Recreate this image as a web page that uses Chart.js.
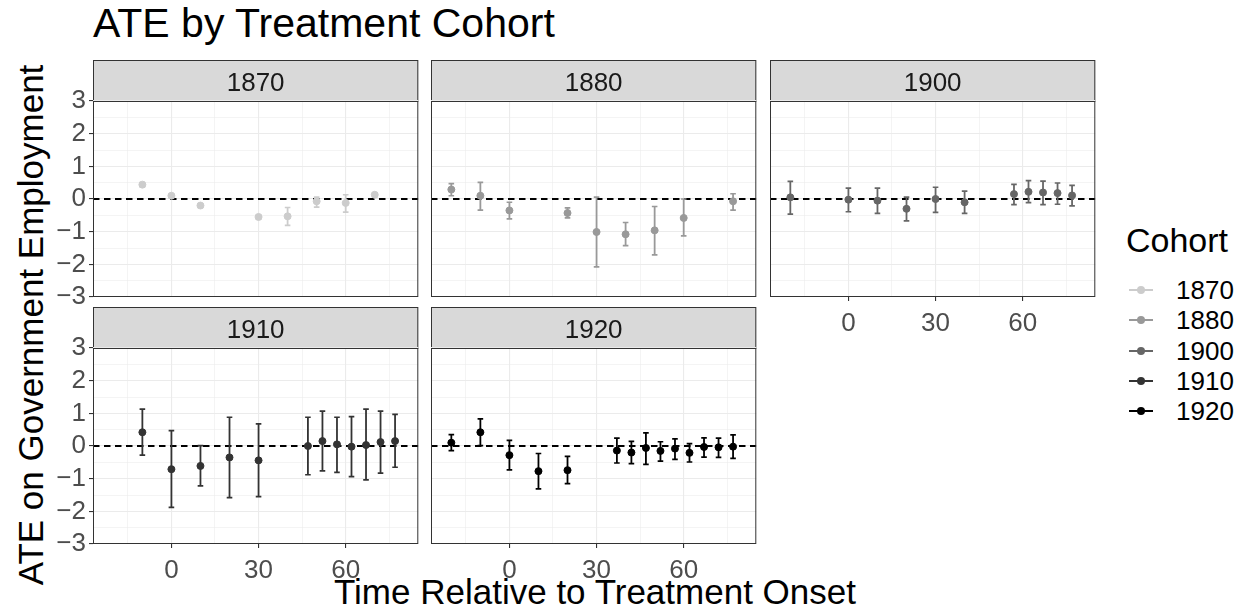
<!DOCTYPE html>
<html>
<head>
<meta charset="utf-8">
<script src="https://cdn.jsdelivr.net/npm/chart.js@4.4.1/dist/chart.umd.min.js"></script>
<style>
  html, body { margin: 0; padding: 0; background: #ffffff; }
  #page {
    position: relative; width: 1235px; height: 613px; overflow: hidden;
    font-family: "Liberation Sans", Arial, Helvetica, sans-serif; color: #000;
  }
  #page canvas { position: absolute; }
  .txt { position: absolute; white-space: nowrap; line-height: 1; }
  #title { left: 93px; top: 3px; font-size: 41px; }
  #xtitle { left: 595px; top: 574px; font-size: 35px; transform: translateX(-50%); }
  #ytitle { left: 30px; top: 325px; font-size: 35px; transform: translate(-50%, -50%) rotate(-90deg); }
  #legend { position: absolute; left: 1126px; top: 223px; }
  #legend .head { font-size: 34px; line-height: 1; margin-bottom: 18px; }
  #legend .item { position: relative; height: 30.3px; font-size: 26px; line-height: 30px; padding-left: 50px; }
  #legend .key { position: absolute; left: 3px; top: 14px; width: 24px; height: 2px; }
  #legend .dot { position: absolute; left: 8px; top: -3px; width: 8px; height: 8px; border-radius: 50%; }
</style>
</head>
<body>
<div id="page">
  <div class="txt" id="title">ATE by Treatment Cohort</div>
  <div class="txt" id="xtitle">Time Relative to Treatment Onset</div>
  <div class="txt" id="ytitle">ATE on Government Employment</div>
  <div id="legend"><div class="head">Cohort</div></div>
</div>
<script>
// cohorts and their grey shades
const cohorts = ['1870', '1880', '1900', '1910', '1920'];
const cohortGreys = ['#cccccc', '#999999', '#666666', '#333333', '#000000'];

// event time, point estimate and 95% interval per cohort
const time1870 = [-10, 0, 10, 30, 40, 50, 60, 70];
const ate1870  = [0.44, 0.10, -0.20, -0.55, -0.53, -0.07, -0.12, 0.13];
const low1870  = [0.38, 0.05, -0.25, -0.61, -0.81, -0.25, -0.40, 0.07];
const high1870 = [0.50, 0.15, -0.15, -0.49, -0.26, 0.06, 0.13, 0.19];

const time1880 = [-20, -10, 0, 20, 30, 40, 50, 60, 77];
const ate1880  = [0.29, 0.10, -0.35, -0.43, -1.01, -1.08, -0.96, -0.58, -0.07];
const low1880  = [0.10, -0.34, -0.61, -0.58, -2.08, -1.43, -1.71, -1.13, -0.34];
const high1880 = [0.47, 0.51, -0.10, -0.27, 0.06, -0.72, -0.23, 0.00, 0.16];

const time1900 = [-20, 0, 10, 20, 30, 40, 57, 62, 67, 72, 77];
const ate1900  = [0.05, -0.02, -0.05, -0.30, 0.00, -0.10, 0.15, 0.22, 0.20, 0.18, 0.11];
const low1900  = [-0.46, -0.39, -0.44, -0.67, -0.41, -0.44, -0.17, -0.11, -0.17, -0.16, -0.21];
const high1900 = [0.54, 0.33, 0.33, 0.06, 0.36, 0.24, 0.45, 0.56, 0.55, 0.49, 0.42];

const time1910 = [-10, 0, 10, 20, 30, 47, 52, 57, 62, 67, 72, 77];
const ate1910  = [0.42, -0.71, -0.61, -0.35, -0.44, 0.00, 0.15, 0.05, -0.02, 0.03, 0.12, 0.15];
const low1910  = [-0.28, -1.88, -1.22, -1.58, -1.55, -0.88, -0.76, -0.81, -0.94, -1.04, -0.83, -0.65];
const high1910 = [1.13, 0.47, 0.01, 0.88, 0.68, 0.88, 1.07, 0.88, 0.90, 1.13, 1.07, 0.97];

const time1920 = [-20, -10, 0, 10, 20, 37, 42, 47, 52, 57, 62, 67, 72, 77];
const ate1920  = [0.10, 0.42, -0.28, -0.77, -0.74, -0.14, -0.20, -0.06, -0.15, -0.08, -0.21, -0.03, -0.04, -0.02];
const low1920  = [-0.14, 0.01, -0.73, -1.31, -1.15, -0.52, -0.54, -0.56, -0.46, -0.41, -0.49, -0.34, -0.35, -0.38];
const high1920 = [0.35, 0.83, 0.17, -0.23, -0.32, 0.24, 0.14, 0.40, 0.13, 0.22, 0.07, 0.25, 0.24, 0.34];

// axis breaks
const xTickLabels = [0, 30, 60];
const xGridBreaks = [-15, 0, 15, 30, 45, 60, 75];
const yTickLabels = [-3, -2, -1, 0, 1, 2, 3];
const yGridBreaks = [-3, -2.5, -2, -1.5, -1, -0.5, 0, 0.5, 1, 1.5, 2, 2.5, 3];
const zeroLine = 0;

const series = {
  1870: { t: time1870, est: ate1870, lo: low1870, hi: high1870 },
  1880: { t: time1880, est: ate1880, lo: low1880, hi: high1880 },
  1900: { t: time1900, est: ate1900, lo: low1900, hi: high1900 },
  1910: { t: time1910, est: ate1910, lo: low1910, hi: high1910 },
  1920: { t: time1920, est: ate1920, lo: low1920, hi: high1920 },
};

// facet geometry (px)
const X_MIN = -27, X_MAX = 85, Y_MIN = -3, Y_MAX = 3;
const PLOT_LEFT = [93, 431, 770];
const STRIP_TOP = [60, 307];
const PLOT_W = 327, PLOT_H = 196, STRIP_H = 41;
const MARGIN_L = 60, MARGIN_R = 4, MARGIN_B = 45;
const FONT = '"Liberation Sans", Arial, Helvetica, sans-serif';

Chart.defaults.font.family = FONT;

const fmt = v => (v < 0 ? '\u2212' + Math.abs(v) : String(v));

// grey strip with the facet label, and the dark frame round the panel
const facetFrame = {
  id: 'facetFrame',
  beforeDraw(chart, args, opts) {
    const { ctx, chartArea: a } = chart;
    const w = a.right - a.left;
    ctx.save();
    ctx.fillStyle = '#d9d9d9';
    ctx.fillRect(a.left, a.top - STRIP_H, w, STRIP_H);
    ctx.strokeStyle = '#333333';
    ctx.lineWidth = 1;
    ctx.strokeRect(a.left + 0.5, a.top - STRIP_H + 0.5, w - 1, STRIP_H);
    ctx.fillStyle = '#1a1a1a';
    ctx.font = '26px ' + FONT;
    ctx.textAlign = 'center';
    ctx.textBaseline = 'alphabetic';
    ctx.fillText(opts.label, a.left + w / 2, a.top - STRIP_H / 2 + 10);
    ctx.restore();
  },
  afterDraw(chart) {
    const { ctx, chartArea: a } = chart;
    ctx.save();
    ctx.strokeStyle = '#333333';
    ctx.lineWidth = 1;
    ctx.strokeRect(a.left + 0.5, a.top + 0.5, a.right - a.left - 1, a.bottom - a.top - 1);
    ctx.restore();
  }
};

const page = document.getElementById('page');

function drawPanel(idx) {
  const name = cohorts[idx];
  const d = series[name];
  const colour = cohortGreys[idx];
  const col = idx % 3;
  const row = Math.floor(idx / 3);
  const showY = col === 0;
  const showX = idx + 3 >= cohorts.length;

  const canvas = document.createElement('canvas');
  canvas.width = MARGIN_L + PLOT_W + MARGIN_R;
  canvas.height = STRIP_H + PLOT_H + MARGIN_B;
  canvas.style.left = (PLOT_LEFT[col] - MARGIN_L) + 'px';
  canvas.style.top = STRIP_TOP[row] + 'px';
  page.appendChild(canvas);

  const points = d.t.map((t, k) => ({ x: t, y: d.est[k] }));
  const caps = [];
  const whiskers = [];
  d.t.forEach((t, k) => {
    caps.push({ x: t, y: d.lo[k] }, { x: t, y: d.hi[k] });
    whiskers.push({ x: t, y: d.lo[k] }, { x: t, y: d.hi[k] }, { x: t, y: null });
  });

  new Chart(canvas, {
    type: 'scatter',
    data: {
      datasets: [
        { data: points, pointRadius: 3.5, pointBorderWidth: 1, backgroundColor: colour, borderColor: colour },
        { data: caps, pointStyle: 'line', pointRadius: 2.8, pointBorderWidth: 1.7, borderColor: colour },
        { data: whiskers, showLine: true, spanGaps: false, pointRadius: 0, borderWidth: 1.8, borderColor: colour },
        {
          data: [{ x: X_MIN, y: zeroLine }, { x: X_MAX, y: zeroLine }],
          showLine: true, pointRadius: 0, borderWidth: 1.8, borderColor: '#000000', borderDash: [6.5, 4.5]
        }
      ]
    },
    options: {
      responsive: false,
      animation: false,
      devicePixelRatio: 1,
      events: [],
      layout: { padding: { top: STRIP_H, right: MARGIN_R, left: 0, bottom: 0 } },
      plugins: {
        legend: { display: false },
        tooltip: { enabled: false },
        facetFrame: { label: name }
      },
      scales: {
        x: {
          type: 'linear', min: X_MIN, max: X_MAX,
          afterBuildTicks: s => { s.ticks = xGridBreaks.map(v => ({ value: v })); },
          afterFit: s => { s.height = MARGIN_B; },
          border: { display: false },
          grid: {
            color: '#ebebeb',
            lineWidth: c => (xTickLabels.includes(c.tick.value) ? 1.1 : 0.55),
            drawTicks: true, tickLength: 4, tickWidth: 1.1,
            tickColor: c => (showX && xTickLabels.includes(c.tick.value) ? '#333333' : 'rgba(0,0,0,0)')
          },
          ticks: {
            autoSkip: false, maxRotation: 0, padding: 7,
            color: '#4d4d4d', font: { size: 26 },
            callback: v => (showX && xTickLabels.includes(v) ? fmt(v) : '')
          }
        },
        y: {
          type: 'linear', min: Y_MIN, max: Y_MAX,
          afterBuildTicks: s => { s.ticks = yGridBreaks.map(v => ({ value: v })); },
          afterFit: s => { s.width = MARGIN_L; },
          border: { display: false },
          grid: {
            color: '#ebebeb',
            lineWidth: c => (yTickLabels.includes(c.tick.value) ? 1.1 : 0.55),
            drawTicks: true, tickLength: 4, tickWidth: 1.1,
            tickColor: c => (showY && yTickLabels.includes(c.tick.value) ? '#333333' : 'rgba(0,0,0,0)')
          },
          ticks: {
            autoSkip: false, padding: 3,
            color: '#4d4d4d', font: { size: 26 },
            callback: v => (showY && yTickLabels.includes(v) ? fmt(v) : '')
          }
        }
      }
    },
    plugins: [facetFrame]
  });
}

cohorts.forEach((c, i) => drawPanel(i));

// shared colour legend
const legend = document.getElementById('legend');
cohorts.forEach((c, i) => {
  const item = document.createElement('div');
  item.className = 'item';
  item.innerHTML = '<span class="key" style="background:' + cohortGreys[i] + '">' +
    '<span class="dot" style="background:' + cohortGreys[i] + '"></span></span>' + c;
  legend.appendChild(item);
});
</script>
</body>
</html>
